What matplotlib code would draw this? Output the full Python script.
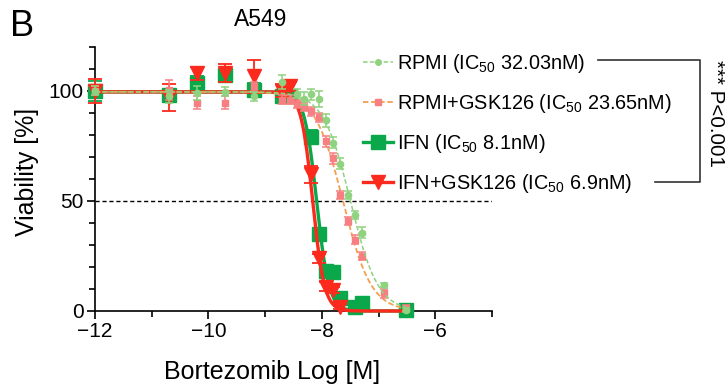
import numpy as np
import matplotlib
matplotlib.use('Agg')
import matplotlib.pyplot as plt
from matplotlib.lines import Line2D

plt.rcParams['font.family'] = ['Liberation Sans', 'DejaVu Sans']
plt.rcParams['mathtext.fontset'] = 'custom'
plt.rcParams['mathtext.rm'] = 'Liberation Sans'
plt.rcParams['mathtext.it'] = 'Liberation Sans'

# log10 dose [M]
DOSE = [-12.0, -10.7, -10.2, -9.7, -9.2, -8.7, -8.57, -8.44, -8.32, -8.19,
        -8.05, -7.92, -7.80, -7.68, -7.54, -7.42, -7.30, -6.90, -6.52]
nan = np.nan

RPMI      = [100, 97.5, 99, 99.5, 97.5, 104, nan, 98.6, 96.4, 98.5,
             96.2, 86.5, 76.5, 66.8, 52.7, 43.6, 35.6, 11.8, 0.5]
RPMI_ERR  = [2, 3, 3, 2, 2, 3, nan, 2, 3, 2.5, 3.5, 3, 2.5, 2.5, 2, 2, 2.5, 1, 1]
RGSK      = [100, 100.5, 94.5, 94.5, 102, 96, 96, 94, 92.6, 90.6,
             87.9, 77, 69.4, 52.7, 40.9, 32.3, 25, 8, 1.4]
RGSK_ERR  = [2, 4.5, 3, 3, 2, 2, 2, 2, 2, 2, 2, 2.5, 2.5, 2, 2, 2, 2, 2, 1.5]
IFN       = [100, 98, 103.5, 107, 100.5, 97.4, 97.4, nan, nan, 79,
             35, 18, 17.6, 6, nan, 2, 3.5, nan, 0.4]
IFN_ERR   = [4.5, 3, 3, 3, 3, 2, 2, nan, nan, 3, 2, 1, 1, 1, nan, 1, 1, nan, 1]
IGSK      = [100, 97, 108, 108, 106.5, 100, 102, nan, nan, 62,
             24, 11, 9.5, 2, nan, nan, nan, nan, nan]
IGSK_ERR  = [5.5, 6, 3, 4, 7.5, 3, 2, nan, nan, 4, 2, 2, 1.5, 1, nan, nan, nan, nan, nan]

# fitted curves: IC50 [M], hill slope
IC50  = [32.03e-9, 23.65e-9, 8.1e-9, 6.9e-9]
HILL  = [1.8, 1.75, 4.0, 4.2]
TOP = 99.5

LABELS = ['RPMI (IC$_{50}$ 32.03nM)', 'RPMI+GSK126 (IC$_{50}$ 23.65nM)',
          'IFN (IC$_{50}$ 8.1nM)', 'IFN+GSK126 (IC$_{50}$ 6.9nM)']

C_LGREEN = '#8fd27f'
C_PINK = '#f77f82'
C_ORANGE = '#f5a04d'
C_GREEN = '#0aa84a'
C_RED = '#fc2a1c'


def hill(x, ic50, h):
    return TOP / (1 + 10 ** ((x - np.log10(ic50)) * h))


fig = plt.figure(figsize=(7.28, 3.92), dpi=100)
ax = fig.add_axes([95 / 728, 1 - 311 / 392, 397 / 728, 264.3 / 392])

xs = np.linspace(-12, -6.52, 400)

# IFN (bottom layer)
ax.plot(xs, hill(xs, IC50[2], HILL[2]), color=C_GREEN, lw=2.4, zorder=2, clip_on=False)
ax.errorbar(DOSE, IFN, yerr=IFN_ERR, fmt='s', ms=10, color=C_GREEN, ecolor=C_GREEN,
            elinewidth=1.3, capsize=5, capthick=1.3, zorder=3, clip_on=False)
# IFN+GSK126
ax.plot(xs, hill(xs, IC50[3], HILL[3]), color=C_RED, lw=2.4, zorder=4, clip_on=False)
ax.errorbar(DOSE, IGSK, yerr=IGSK_ERR, fmt='v', ms=10, color=C_RED, ecolor=C_RED,
            elinewidth=1.3, capsize=5, capthick=1.3, zorder=4, clip_on=False)
# RPMI+GSK126
ax.plot(xs, hill(xs, IC50[1], HILL[1]), color=C_ORANGE, lw=1.3, ls=(0, (3, 1.5)),
        zorder=5, clip_on=False)
ax.errorbar(DOSE, RGSK, yerr=RGSK_ERR, fmt='s', ms=4.5, color=C_PINK, ecolor=C_PINK,
            elinewidth=1.1, capsize=3, capthick=1.1, zorder=5, clip_on=False)
# RPMI
ax.plot(xs, hill(xs, IC50[0], HILL[0]), color=C_LGREEN, lw=1.1, ls=(0, (3, 1.5)),
        zorder=6, clip_on=False)
ax.errorbar(DOSE, RPMI, yerr=RPMI_ERR, fmt='o', ms=4.5, color=C_LGREEN, ecolor=C_LGREEN,
            elinewidth=1.1, capsize=3, capthick=1.1, zorder=6, clip_on=False)

ax.axhline(50, color='black', lw=1, ls=(0, (3, 2)), zorder=1)

ax.set_xlim(-12, -5)
ax.set_ylim(0, 120)
ax.set_xticks([-12, -10, -8, -6])
ax.set_xticks([-11, -9, -7, -5], minor=True)
ax.set_yticks([0, 50, 100])
ax.set_yticks([10, 20, 30, 40, 60, 70, 80, 90, 110, 120], minor=True)
for s in ['top', 'right']:
    ax.spines[s].set_visible(False)
for s in ['left', 'bottom']:
    ax.spines[s].set_linewidth(1.2)
ax.tick_params(which='major', length=6, width=1.2, labelsize=15, pad=2)
ax.tick_params(which='minor', length=4, width=1.2)

fig.text(27 / 728, 1 - 172 / 392, 'Viability [%]', rotation=90, fontsize=18,
         ha='center', va='center')
fig.text(272 / 728, 1 - 372 / 392, 'Bortezomib Log [M]', fontsize=18,
         ha='center', va='center')
fig.text(261 / 728, 1 - 20 / 392, 'A549', fontsize=16.5, ha='center', va='center')
fig.text(10 / 728, 1 - 27 / 392, 'B', fontsize=26, ha='left', va='center')

handles = [
    Line2D([], [], color=C_LGREEN, lw=1.1, ls=(0, (3, 1.5)), marker='o', ms=4),
    Line2D([], [], color=C_ORANGE, lw=1.3, ls=(0, (3, 1.5)), marker='s', ms=4,
           mfc=C_PINK, mec=C_PINK),
    Line2D([], [], color=C_GREEN, lw=2.4, marker='s', ms=10),
    Line2D([], [], color=C_RED, lw=2.4, marker='v', ms=10),
]
fig.legend(handles, LABELS, loc='upper left', bbox_to_anchor=(355 / 728, 1 - 44 / 392),
           frameon=False, fontsize=14.3, handlelength=1.5, handletextpad=0.2,
           labelspacing=0.85, borderaxespad=0)

# significance bracket
bx = [598 / 728, 700 / 728, 700 / 728, 655 / 728]
by = [1 - 60 / 392, 1 - 60 / 392, 1 - 182 / 392, 1 - 182 / 392]
fig.add_artist(Line2D(bx, by, color='#333333', lw=1.2, transform=fig.transFigure))
fig.text(715 / 728, 1 - 113 / 392, '*** P<0.001', rotation=270, fontsize=14.8,
         ha='center', va='center')

fig.savefig('out.png', dpi=100)
